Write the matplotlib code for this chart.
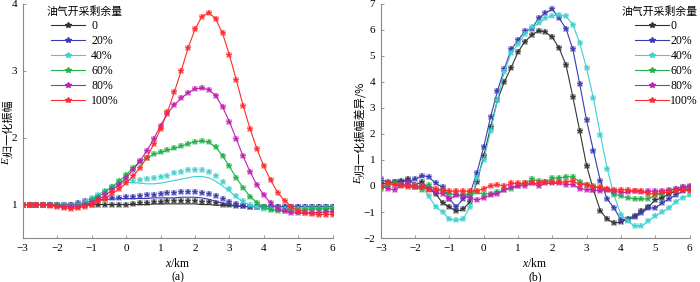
import numpy as np
import matplotlib.pyplot as plt

plt.rcParams['font.family'] = ['Liberation Serif', 'Noto Sans CJK SC']
plt.rcParams['mathtext.fontset'] = 'custom'
plt.rcParams['mathtext.it'] = 'Liberation Serif:italic'
plt.rcParams['mathtext.sf'] = 'Liberation Serif'

x = np.round(np.arange(-3, 6.01, 0.2), 1)
labels = ['0', '20%', '40%', '60%', '80%', '100%']
colors = ['#333333', '#3b3bb0', '#3fd0d0', '#22b04a', '#c020b0', '#ff2a2a']

# (a) normalized amplitude - marker values
amp_0 = [1.0, 1.0, 1.0, 1.0, 1.0, 1.0, 1.0, 1.0, 1.0, 1.0, 0.99, 0.99, 0.99, 0.99, 0.99, 1.0,
         1.01, 1.02, 1.03, 1.04, 1.04, 1.05, 1.05, 1.05, 1.05, 1.05, 1.04, 1.04, 1.02, 1.0, 0.99,
         0.98, 0.98, 0.97, 0.97, 0.97, 0.97, 0.97, 0.97, 0.97, 0.97, 0.97, 0.97, 0.97, 0.97, 0.97]
amp_20 = [1.0, 1.0, 1.0, 1.0, 1.0, 1.0, 1.0, 1.0, 1.02, 1.05, 1.07, 1.08, 1.09, 1.1, 1.1, 1.11,
          1.11, 1.13, 1.14, 1.15, 1.16, 1.17, 1.18, 1.19, 1.19, 1.19, 1.18, 1.16, 1.13, 1.08, 1.04,
          1.01, 0.98, 0.97, 0.97, 0.97, 0.97, 0.97, 0.97, 0.97, 0.97, 0.97, 0.97, 0.97, 0.97, 0.97]
amp_40 = [1.0, 1.0, 1.0, 1.0, 1.0, 0.99, 0.99, 0.98, 1.0, 1.04, 1.1, 1.15, 1.21, 1.27, 1.33, 1.37,
          1.35, 1.36, 1.38, 1.4, 1.41, 1.43, 1.47, 1.48, 1.51, 1.52, 1.52, 1.49, 1.43, 1.34, 1.23,
          1.13, 1.05, 0.99, 0.96, 0.94, 0.93, 0.93, 0.93, 0.94, 0.94, 0.95, 0.95, 0.95, 0.95, 0.95]
amp_60 = [1.0, 1.0, 1.0, 1.0, 1.0, 0.99, 0.98, 0.97, 0.98, 1.01, 1.07, 1.12, 1.19, 1.27, 1.35, 1.44,
          1.55, 1.64, 1.7, 1.75, 1.78, 1.81, 1.84, 1.87, 1.91, 1.94, 1.95, 1.93, 1.86, 1.73, 1.57,
          1.4, 1.25, 1.12, 1.03, 0.96, 0.92, 0.9, 0.9, 0.9, 0.91, 0.92, 0.93, 0.93, 0.94, 0.94]
amp_80 = [1.0, 1.0, 1.0, 1.0, 0.99, 0.98, 0.97, 0.96, 0.97, 0.99, 1.03, 1.08, 1.14, 1.22, 1.3, 1.4,
          1.52, 1.65, 1.8, 1.98, 2.18, 2.36, 2.49, 2.59, 2.67, 2.73, 2.74, 2.72, 2.63, 2.46, 2.24,
          1.98, 1.72, 1.49, 1.29, 1.14, 1.02, 0.94, 0.9, 0.88, 0.87, 0.87, 0.88, 0.88, 0.89, 0.89]
amp_100 = [1.0, 1.0, 1.0, 1.0, 0.98, 0.97, 0.95, 0.94, 0.95, 0.97, 1.0, 1.05, 1.09, 1.17, 1.23, 1.32,
           1.42, 1.55, 1.7, 1.9, 2.13, 2.38, 2.68, 3.0, 3.34, 3.62, 3.81, 3.87, 3.78, 3.56, 3.24,
           2.86, 2.48, 2.13, 1.83, 1.57, 1.36, 1.18, 1.06, 0.97, 0.9, 0.87, 0.86, 0.85, 0.85, 0.85]

# (a) line values where the curve departs from the markers
line_0 = [1.0, 1.0, 1.0, 1.0, 1.0, 1.0, 1.0, 1.0, 1.0, 1.0, 1.0, 1.0, 1.0, 1.0, 1.0, 1.0,
          1.0, 1.0, 1.0, 1.01, 1.01, 1.01, 1.01, 1.01, 1.01, 1.01, 1.0, 1.0, 0.99, 0.99, 0.98,
          0.98, 0.97, 0.97, 0.97, 0.97, 0.97, 0.97, 0.97, 0.97, 0.97, 0.97, 0.97, 0.97, 0.97, 0.97]
line_20 = [1.0, 1.0, 1.0, 1.0, 1.0, 1.0, 1.0, 1.0, 1.01, 1.03, 1.05, 1.07, 1.08, 1.08, 1.09, 1.09,
           1.09, 1.09, 1.09, 1.1, 1.1, 1.1, 1.1, 1.11, 1.11, 1.11, 1.1, 1.08, 1.05, 1.02, 1.0,
           0.98, 0.97, 0.97, 0.97, 0.97, 0.97, 0.97, 0.97, 0.97, 0.97, 0.97, 0.97, 0.97, 0.97, 0.97]
line_40 = [1.0, 1.0, 1.0, 1.0, 1.0, 0.99, 0.99, 0.98, 1.0, 1.04, 1.1, 1.15, 1.21, 1.26, 1.31, 1.33,
           1.33, 1.32, 1.31, 1.31, 1.32, 1.34, 1.36, 1.38, 1.4, 1.42, 1.42, 1.4, 1.35, 1.28, 1.2,
           1.11, 1.04, 0.99, 0.96, 0.94, 0.93, 0.93, 0.93, 0.94, 0.94, 0.95, 0.95, 0.95, 0.95, 0.95]

# (b) normalized amplitude difference (%)
dif_0 = [0.1, 0.1, 0.15, 0.2, 0.25, 0.05, 0.15, -0.1, -0.3, -0.65, -0.8, -0.97, -0.9, -0.6, 0.15, 1.15,
         2.25, 3.3, 4.0, 4.55, 5.15, 5.55, 5.8, 5.97, 5.92, 5.72, 5.3, 4.65, 3.42, 2.12, 0.78,
         -0.15, -0.95, -1.28, -1.42, -1.4, -1.25, -1.15, -0.97, -0.8, -0.55, -0.45, -0.3, -0.2, -0.1, -0.05]
dif_20 = [0.25, 0.15, 0.15, 0.15, 0.2, 0.25, 0.4, 0.35, 0.1, -0.05, -0.5, -0.8, -0.5, -0.3, 0.5, 1.5,
          2.65, 3.65, 4.5, 5.25, 5.6, 5.95, 6.05, 6.45, 6.65, 6.8, 6.45, 6.05, 5.25, 3.92, 2.52,
          1.35, 0.2, -0.5, -0.85, -1.3, -1.3, -1.2, -1.05, -0.85, -0.85, -0.65, -0.5, -0.35, -0.2, -0.1]
dif_40 = [-0.05, 0.0, 0.05, 0.05, 0.05, 0.0, 0.0, -0.4, -0.8, -1.0, -1.28, -1.32, -1.27, -0.8, 0.3, 1.0,
          2.1, 3.3, 4.4, 5.1, 5.45, 5.85, 6.1, 6.25, 6.45, 6.55, 6.57, 6.52, 6.2, 5.5, 4.52,
          3.37, 1.98, 0.67, -0.35, -1.1, -1.35, -1.55, -1.55, -1.35, -1.15, -1.0, -0.85, -0.6, -0.45, -0.35]
dif_60 = [-0.1, 0.05, 0.1, 0.05, 0.0, -0.05, -0.15, 0.05, -0.15, -0.2, -0.3, -0.35, -0.35, -0.3, -0.25, -0.3,
          -0.3, -0.25, -0.15, -0.1, 0.0, 0.1, 0.25, 0.2, 0.15, 0.3, 0.3, 0.35, 0.35, 0.15, 0.05,
          0.0, -0.1, -0.15, -0.3, -0.4, -0.45, -0.5, -0.5, -0.5, -0.35, -0.3, -0.2, -0.1, -0.05, -0.05]
dif_80 = [0.0, -0.1, -0.15, 0.05, 0.1, -0.05, 0.0, -0.1, -0.25, -0.3, -0.5, -0.35, -0.4, -0.45, -0.55, -0.45,
          -0.35, -0.3, -0.15, -0.05, 0.0, 0.0, 0.1, 0.0, 0.1, 0.1, 0.1, 0.05, 0.05, -0.1, -0.15,
          -0.15, -0.2, -0.15, -0.2, -0.25, -0.25, -0.2, -0.25, -0.2, -0.2, -0.2, -0.15, -0.1, -0.05, 0.0]
dif_100 = [-0.05, 0.1, 0.05, 0.0, -0.05, -0.05, -0.05, -0.15, -0.1, -0.15, -0.2, -0.2, -0.2, -0.2, -0.2, -0.1,
           0.0, 0.05, 0.0, 0.1, 0.1, 0.1, 0.1, 0.1, 0.15, 0.15, 0.15, 0.15, 0.2, 0.05, 0.05,
           -0.05, -0.05, -0.1, -0.15, -0.15, -0.15, -0.2, -0.2, -0.3, -0.3, -0.25, -0.25, -0.2, -0.15, -0.2]

amp_marks = [amp_0, amp_20, amp_40, amp_60, amp_80, amp_100]
amp_lines = [line_0, line_20, line_40, amp_60, amp_80, amp_100]
difs = [dif_0, dif_20, dif_40, dif_60, dif_80, dif_100]

W, H = 700, 282
fig = plt.figure(figsize=(7, 2.82), dpi=100)
ax1 = fig.add_axes([0.0324, 0.156, 0.443, 0.830])
ax2 = fig.add_axes([0.544, 0.156, 0.441, 0.830])


def draw(ax, lines, marks):
    for ln, mk, c, lab in zip(lines, marks, colors, labels):
        ax.plot(x, ln, color=c, lw=0.8)
        ax.plot(x, mk, ls='none', marker='s', ms=4.5, color=c, alpha=0.3, mew=0)
        ax.plot(x, mk, ls='none', marker='*', ms=3.8, color=c, mew=0.3)
        ax.plot([], [], color=c, lw=0.8, marker='*', ms=3.8, label=lab)


draw(ax1, amp_lines, amp_marks)
draw(ax2, difs, difs)

for ax in (ax1, ax2):
    ax.set_xlim(-3, 6)
    ax.set_xticks(range(-3, 7))
    for s in ('top', 'right'):
        ax.spines[s].set_visible(False)
    for s in ('left', 'bottom'):
        ax.spines[s].set_color('#888888')
        ax.spines[s].set_linewidth(0.8)
    ax.tick_params(direction='in', length=2.5, width=0.6, color='#888888', labelsize=8, pad=4)
    ax.set_xticklabels(['\u22123', '\u22122', '\u22121', '0', '1', '2', '3', '4', '5', '6'])

ax1.set_ylim(0.5, 4)
ax1.set_yticks([1, 2, 3, 4])
ax2.set_ylim(-2, 7)
ax2.set_yticks(range(-2, 8))
ax2.set_yticklabels(['\u22122', '\u22121', '0', '1', '2', '3', '4', '5', '6', '7'])


# vertical label "E_y" + chinese text, built from pieces (bottom to top)
def ylabel_parts(xc_px, yc_px, rest):
    r = fig.canvas.get_renderer()
    pieces = [
        fig.text(0, 0, 'E', rotation=90, fontsize=8, style='italic', family='Liberation Serif'),
        fig.text(0, 0, 'y', rotation=90, fontsize=6, style='italic', family='Liberation Serif'),
        fig.text(0, 0, rest, rotation=90, fontsize=8, family=['Noto Sans CJK SC']),
    ]
    sizes = [p.get_window_extent(r).height for p in pieces]
    y = yc_px - sum(sizes) / 2
    for p, h, dx in zip(pieces, sizes, (0, 2.5, 0.5)):
        p.set_position(((xc_px + dx) / W, y / H))
        p.set_ha('center')
        p.set_va('bottom')
        y += h


ylabel_parts(7, H - 132, '归一化振幅')
ylabel_parts(359, H - 133, '归一化振幅差异/%')

for cx in (0.2537, 0.7645):
    fig.text(cx, 0.067, '$x\\mathsf{/km}$', ha='center', va='center', fontsize=8.5)
fig.text(0.2537, 0.018, '(a)', ha='center', va='center', fontsize=8.5)
fig.text(0.7645, 0.018, '(b)', ha='center', va='center', fontsize=8.5)

for ax, loc, anchor, pad, al in ((ax1, 'upper left', (0.07, 1.0), 0.5, 'center'),
                                 (ax2, 'upper right', (1.035, 1.0), 0.1, 'right')):
    leg = ax.legend(loc=loc, bbox_to_anchor=anchor, frameon=False, title='油气开采剩余量',
                    fontsize=8.5, title_fontsize=7.8, handlelength=2.9, labelspacing=0.25,
                    handletextpad=pad, borderaxespad=0, borderpad=0.2, alignment=al)
    leg.get_title().set_family(['Noto Sans CJK SC'])

fig.savefig('out.png', dpi=100)
